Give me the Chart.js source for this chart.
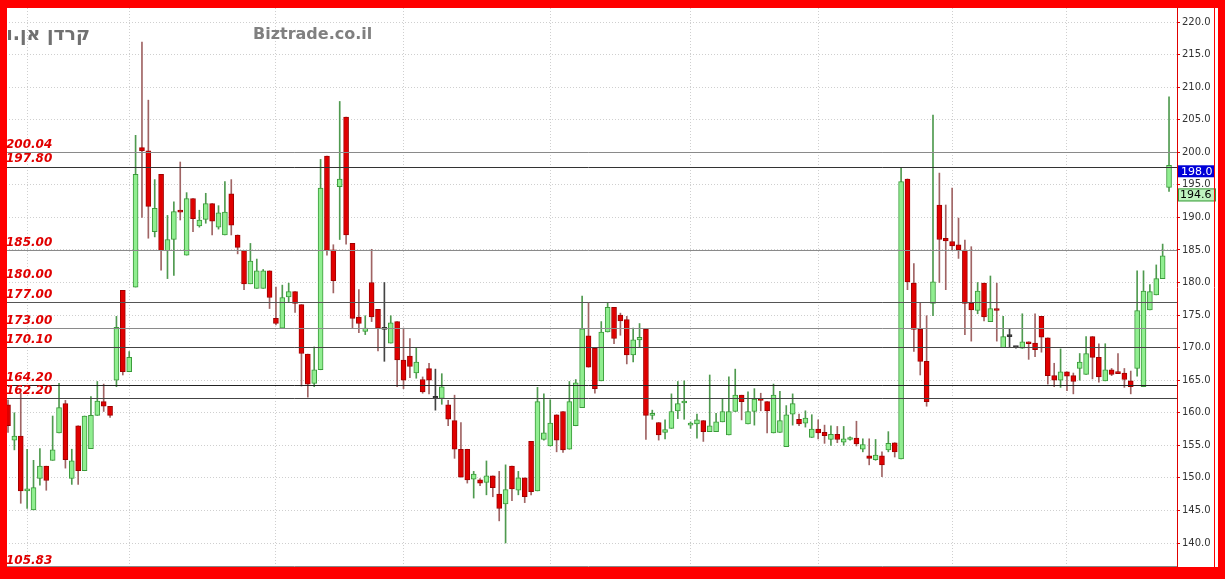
<!DOCTYPE html>
<html>
<head>
<meta charset="utf-8">
<script src="https://cdn.jsdelivr.net/npm/chart.js@4.4.1/dist/chart.umd.min.js"></script>
<style>
  html, body { margin: 0; padding: 0; background: #fff; }
  #wrap { width: 1225px; height: 579px; }
</style>
</head>
<body>
<div id="wrap"><canvas id="chart" width="1225" height="579"></canvas></div>
<script>
// daily candles
const opens = [161.2,155.8,156.4,148.0,145.1,149.9,151.8,152.7,156.9,161.4,149.9,158.0,151.1,154.5,159.6,161.7,161.0,165.0,178.8,166.3,
  179.3,200.7,200.2,187.8,196.6,184.9,186.6,190.9,184.2,192.9,188.7,189.7,192.1,188.5,187.3,193.6,187.3,184.9,179.8,179.1,
  179.1,181.8,174.5,173.0,177.8,178.6,176.6,169.0,164.5,166.6,199.4,185.0,194.7,205.4,186.0,174.7,172.5,180.0,175.9,172.8,
  170.7,174.0,168.1,168.7,166.1,165.1,166.8,162.2,162.2,161.2,158.8,154.4,154.4,149.8,149.7,149.3,150.3,147.5,146.0,151.8,
  148.1,150.0,155.6,148.0,155.9,154.9,159.7,160.2,154.4,158.0,160.8,171.8,169.9,164.9,172.4,176.2,175.0,174.3,168.9,171.2,
  172.8,159.6,158.5,157.0,157.6,160.3,161.5,158.1,158.3,158.8,157.1,157.1,158.6,156.6,160.2,162.7,158.3,160.2,162.1,161.7,
  156.9,157.0,154.8,159.8,159.0,158.4,156.2,157.5,157.0,155.9,156.7,155.5,155.9,156.1,154.4,153.4,152.8,153.4,154.3,155.4,
  152.9,195.9,179.9,172.8,167.9,176.8,191.9,186.8,186.3,185.8,184.9,176.8,175.7,179.9,174.0,176.0,170.0,171.7,170.0,169.9,
  170.9,170.7,174.8,171.5,165.7,165.0,166.3,165.7,166.8,165.9,171.7,168.5,164.9,166.6,166.1,166.1,164.9,166.8,164.0,175.8,
  178.1,180.6,194.6];
const highs = [162.0,160.0,163.0,154.4,152.7,154.5,151.8,159.5,164.5,161.9,154.4,158.0,159.5,162.5,164.8,164.4,161.0,174.8,178.8,169.4,
  202.6,216.9,208.0,195.8,196.6,190.3,192.4,198.5,193.8,192.9,191.1,193.7,192.1,191.8,195.5,195.8,187.3,184.9,186.0,183.6,
  182.0,181.8,179.3,179.6,179.9,178.6,176.6,169.0,170.1,198.9,199.4,185.8,207.8,205.4,186.0,178.9,174.9,185.1,175.9,180.0,
  174.9,174.0,173.0,171.4,169.9,165.5,167.6,166.7,166.0,161.9,162.7,158.5,154.4,151.0,149.9,152.6,150.3,151.0,152.0,151.8,
  151.0,150.0,155.6,163.9,162.9,162.0,159.7,160.2,164.8,165.1,177.9,176.9,169.9,174.0,176.8,176.2,175.3,174.8,173.0,173.7,
  172.8,160.4,158.5,158.9,162.9,164.8,164.9,158.6,159.8,158.8,165.8,159.9,162.2,165.5,166.7,162.7,163.2,163.7,163.0,161.7,
  164.4,163.3,161.1,162.9,159.8,160.3,159.7,158.9,158.1,158.0,157.9,157.9,156.3,158.7,156.0,156.0,155.9,154.0,157.1,155.4,
  197.7,195.9,182.9,176.9,174.9,205.7,196.8,191.9,194.5,189.9,186.5,185.5,180.0,179.9,181.0,179.9,174.8,172.9,170.1,175.2,
  170.9,175.2,174.8,171.5,167.6,169.8,166.3,166.1,169.1,171.7,171.7,170.6,170.6,166.8,169.1,166.8,166.4,181.8,181.8,179.7,
  182.7,185.9,208.5];
const lows = [157.0,154.3,146.1,145.3,145.1,148.9,148.1,152.7,156.9,151.5,149.0,149.0,151.1,154.5,159.6,160.2,159.3,164.0,165.8,166.3,
  179.3,190.0,186.8,187.0,181.9,180.6,181.1,189.6,184.2,187.8,188.5,189.1,187.3,188.2,187.3,187.3,184.4,178.9,179.8,179.1,
  179.1,176.0,173.5,173.0,176.9,175.4,164.1,162.4,164.0,166.6,184.2,178.4,186.6,185.9,173.0,172.3,172.0,174.0,169.5,167.9,
  170.7,164.0,163.7,165.4,165.3,163.0,162.9,160.4,161.3,158.0,153.0,150.1,149.2,146.9,148.8,147.4,147.1,143.4,140.0,146.5,
  147.4,146.2,147.4,148.0,155.8,154.9,154.0,153.9,154.4,158.0,160.8,167.0,163.0,164.9,172.4,170.6,171.9,167.5,167.8,170.1,
  155.9,159.0,155.8,156.0,157.6,159.1,159.0,157.6,156.1,155.6,157.1,157.1,158.6,156.6,160.2,158.9,158.3,158.1,160.3,156.9,
  156.9,157.0,154.8,158.1,158.0,157.8,156.2,156.0,155.3,155.0,155.4,155.0,155.8,154.9,154.0,152.0,152.7,150.2,154.0,153.2,
  152.9,178.9,169.4,165.8,161.0,174.9,180.0,178.9,184.9,183.7,172.0,171.0,175.2,174.1,174.0,171.0,170.0,170.0,169.9,169.9,
  168.2,168.6,169.3,164.4,164.0,163.9,163.4,162.9,165.0,165.9,165.2,164.7,164.9,165.7,166.0,163.9,162.9,165.6,164.0,175.8,
  178.1,180.6,194.0];
const closes = [158.0,156.4,148.0,148.3,148.5,151.8,149.6,154.3,160.8,152.8,152.6,151.1,159.5,159.6,161.8,161.0,159.6,173.1,166.3,168.5,
  196.6,200.2,191.7,191.4,184.9,186.6,190.9,190.8,192.9,189.8,189.6,192.1,189.4,190.7,190.8,188.8,185.4,179.8,183.3,181.8,
  181.8,177.7,173.7,177.7,178.6,176.8,169.1,164.4,166.6,194.5,184.9,180.3,195.9,187.3,174.5,173.7,173.0,174.7,173.0,172.8,
  173.8,168.1,165.0,167.1,167.8,163.2,165.0,162.2,164.0,159.0,154.4,150.1,149.7,150.6,149.2,150.3,148.5,145.3,148.2,148.3,
  150.0,147.1,147.9,161.7,156.9,158.4,155.8,154.3,161.7,164.6,172.9,167.0,163.7,172.4,176.2,171.4,174.1,168.9,171.2,171.6,
  159.6,159.8,156.6,157.4,160.2,161.4,161.6,158.3,158.9,157.1,158.0,158.6,160.2,160.2,162.7,161.7,160.2,162.1,161.9,160.3,
  162.7,158.8,159.7,161.4,158.3,159.2,157.5,156.9,156.5,156.7,155.9,156.0,156.2,155.2,155.1,153.0,153.5,152.0,155.3,154.0,
  195.5,180.1,172.8,167.9,161.7,180.1,186.6,186.4,185.6,185.0,176.8,175.8,178.7,174.7,176.0,175.7,171.7,171.7,170.0,170.9,
  170.6,169.7,171.6,165.7,165.0,166.3,165.6,164.8,167.8,169.1,168.5,165.5,166.6,165.9,166.0,165.1,164.0,175.7,178.7,178.6,
  180.6,184.1,198.0];

// axis ticks and month gridlines (candle index)
const yTicks = [140, 145, 150, 155, 160, 165, 170, 175, 180, 185, 190, 195, 200, 205, 210, 215, 220];
const monthStarts = [3, 19, 42, 62, 85, 107, 127, 148, 166];

// horizontal levels and their labels
const lineLevels = [200.04, 197.80, 185.00, 177.00, 173.00, 170.10, 164.20, 162.20];
const labelLevels = [200.04, 197.80, 185.00, 180.00, 177.00, 173.00, 170.10, 164.20, 162.20, 105.83];
const priceTags = [198.0, 194.6];
const titleText = 'קרדן אן.וי';
const siteText = 'Biztrade.co.il';

const lineColors = ['#8a8a8a', '#333333', '#8a8a8a', '#555555', '#8a8a8a', '#444444', '#222222', '#444444'];

const up = closes.map((c, i) => c > opens[i]);
const flat = closes.map((c, i) => c === opens[i]);

const bodyFill = closes.map((c, i) => flat[i] ? '#333333' : (up[i] ? '#90ee90' : '#e00000'));
const bodyLine = closes.map((c, i) => flat[i] ? '#333333' : (up[i] ? '#3a9a3a' : '#a00000'));
const wickColor = closes.map((c, i) => flat[i] ? '#444444' : (up[i] ? '#4f9a4f' : '#a06464'));

const overlay = {
  id: 'overlay',
  afterDraw(chart) {
    const ctx = chart.ctx;
    const a = chart.chartArea;
    const y = chart.scales.y;
    ctx.save();

    // level lines
    lineLevels.forEach((v, k) => {
      const py = Math.round(y.getPixelForValue(v)) + 0.5;
      ctx.strokeStyle = lineColors[k];
      ctx.lineWidth = 1;
      ctx.beginPath();
      ctx.moveTo(a.left, py);
      ctx.lineTo(a.right, py);
      ctx.stroke();
    });

    // level labels
    ctx.font = 'italic bold 12px "DejaVu Sans"';
    ctx.fillStyle = '#e00000';
    ctx.textAlign = 'left';
    ctx.textBaseline = 'middle';
    labelLevels.forEach(v => {
      let py = y.getPixelForValue(v) - 7.5;
      if (py > 561) py = 561;
      ctx.fillText(v.toFixed(2), 6, py);
    });

    // titles
    ctx.fillStyle = '#707070';
    ctx.font = 'bold 19px "DejaVu Sans"';
    ctx.direction = 'rtl';
    ctx.textAlign = 'right';
    ctx.fillText(titleText, 90, 35);
    ctx.direction = 'ltr';
    ctx.textAlign = 'left';
    ctx.fillStyle = '#808080';
    ctx.font = 'bold 16px "DejaVu Sans"';
    ctx.fillText(siteText, 253, 35);

    // bottom plot edge
    ctx.strokeStyle = '#888888';
    ctx.beginPath();
    ctx.moveTo(a.left, a.bottom + 0.5);
    ctx.lineTo(a.right, a.bottom + 0.5);
    ctx.stroke();

    // price tags on the axis
    const t0 = y.getPixelForValue(priceTags[0]);
    ctx.fillStyle = '#0000d8';
    ctx.fillRect(a.right + 1, t0, 36, 12);
    ctx.fillStyle = '#ffffff';
    ctx.font = '11px "DejaVu Sans"';
    ctx.fillText(priceTags[0].toFixed(1), a.right + 4, t0 + 6.5);

    const t1 = y.getPixelForValue(priceTags[1]);
    ctx.fillStyle = '#bff2bf';
    ctx.fillRect(a.right + 1, t1 + 1, 38, 13);
    ctx.strokeStyle = '#3a9a3a';
    ctx.strokeRect(a.right + 1.5, t1 + 1.5, 37, 12);
    ctx.fillStyle = '#000000';
    ctx.fillText(priceTags[1].toFixed(1), a.right + 3, t1 + 8);

    // red frame
    ctx.fillStyle = '#ff0000';
    ctx.fillRect(0, 0, 1225, 8);
    ctx.fillRect(0, 0, 7, 579);
    ctx.fillRect(1218, 0, 7, 579);
    ctx.fillRect(0, 567, 1225, 12);
    ctx.strokeStyle = '#ff0000';
    ctx.beginPath();
    ctx.moveTo(1214.5, 8);
    ctx.lineTo(1214.5, 567);
    ctx.stroke();
    ctx.restore();
  }
};

new Chart(document.getElementById('chart'), {
  type: 'bar',
  data: {
    datasets: [
      {
        label: 'body',
        data: opens.map((o, i) => ({ x: i, y: [o, closes[i]] })),
        backgroundColor: bodyFill,
        borderColor: bodyLine,
        borderWidth: 1,
        borderSkipped: false,
        barThickness: 5,
        minBarLength: 2,
        grouped: false
      },
      {
        label: 'wick',
        data: lows.map((l, i) => ({ x: i, y: [l, highs[i]] })),
        backgroundColor: wickColor,
        borderWidth: 0,
        barThickness: 1,
        grouped: false
      }
    ]
  },
  options: {
    responsive: false,
    animation: false,
    layout: { padding: { top: 8, bottom: 13, left: 0, right: 0 } },
    plugins: { legend: { display: false }, tooltip: { enabled: false } },
    scales: {
      x: {
        type: 'linear',
        offset: false,
        min: -1.254,
        max: 183.25,
        afterBuildTicks: axis => { axis.ticks = monthStarts.map(v => ({ value: v })); },
        afterFit: axis => { axis.height = 0; },
        ticks: { display: false },
        grid: { color: '#cfcfcf', drawTicks: false, offset: false },
        border: { display: false, dash: [1, 2] }
      },
      y: {
        position: 'right',
        min: 136.47,
        max: 222.15,
        afterBuildTicks: axis => { axis.ticks = yTicks.map(v => ({ value: v })); },
        afterFit: axis => { axis.width = 48; },
        ticks: {
          callback: v => Number(v).toFixed(1),
          color: '#333333',
          font: { family: 'DejaVu Sans', size: 10 },
          padding: 2
        },
        grid: { color: '#cfcfcf', tickColor: '#e00000', tickLength: 3 },
        border: { color: '#e00000', dash: [1, 2] }
      }
    }
  },
  plugins: [overlay]
});
</script>
</body>
</html>
